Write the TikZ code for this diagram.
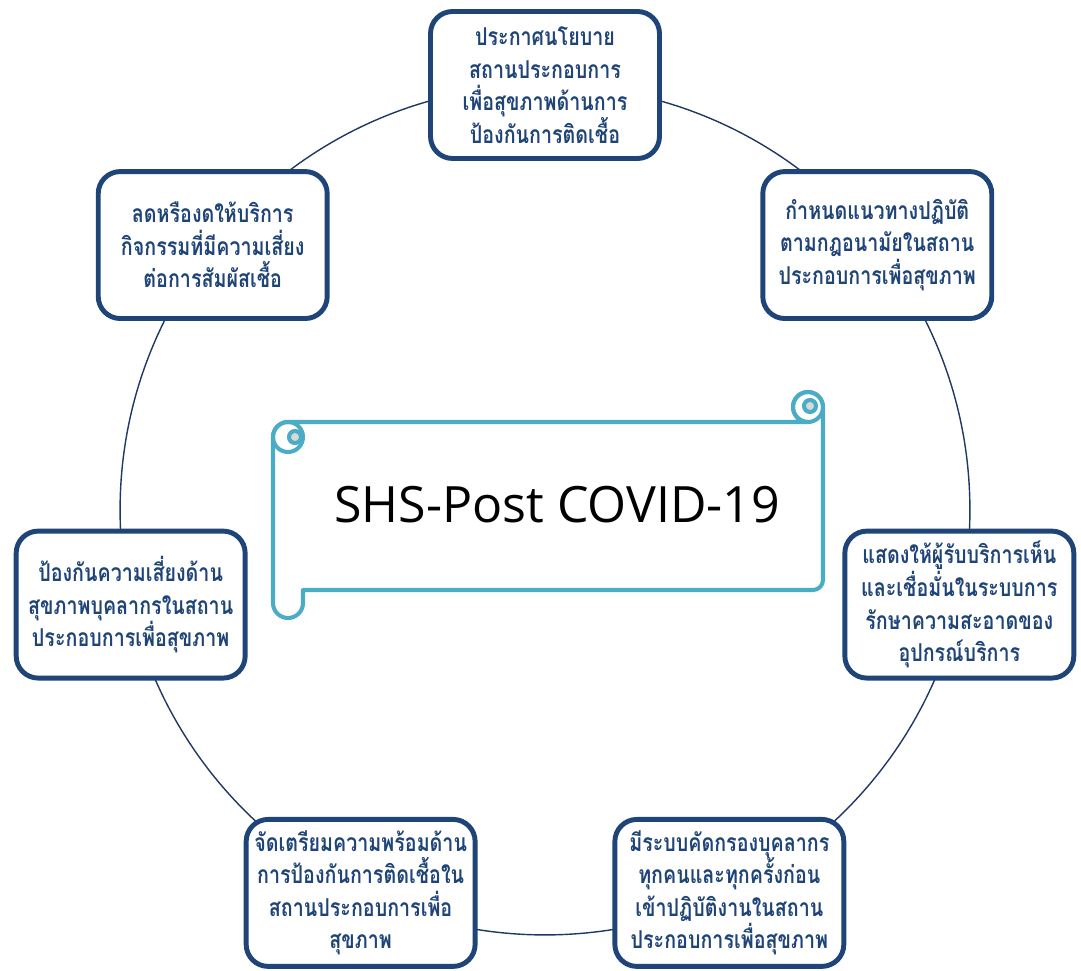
\documentclass[tikz,border=0pt]{standalone}
\usepackage{fontspec}
\newfontfamily\thaifont[Script=Thai,FakeStretch=0.8]{Loma}
\newfontfamily\titlefont{Open Sans}
\definecolor{navy}{HTML}{1F4477}
\definecolor{ringblue}{HTML}{203864}
\definecolor{scrollcyan}{HTML}{4BACC6}
\definecolor{curlgray}{HTML}{D9D9D9}

\begin{document}
\begin{tikzpicture}
[x=0.02cm,y=0.02cm,
 stepcard/.style={draw=navy,line width=2.8pt,fill=white,rounded corners=0.44cm,
   minimum width=4.58cm,minimum height=2.94cm,inner sep=2pt,align=center,
   text=navy,font=\thaifont\bfseries\fontsize{14}{18.5}\selectfont},
 ring/.style={draw=ringblue,line width=0.8pt},
 scroll/.style={draw=scrollcyan,line width=2.3pt,line join=round}]

\useasboundingbox (-545,-460) rectangle (536,510);

\coordinate (hub) at (0,0);
\draw[ring] (hub) circle [radius=8.5cm];

\draw[scroll,fill=white] (-242,-80) -- (268,-80) arc (270:360:10) -- (278,103)
  arc (0:270:15) -- (-257,88) arc (90:180:15) -- (-272,-93) arc (180:360:15) -- cycle;
\draw[scroll] (-257,73) circle [radius=15];
\draw[scroll] (263,103) circle [radius=15];
\filldraw[scroll,fill=curlgray] (-250,73) circle [radius=6];
\filldraw[scroll,fill=curlgray] (265,104) circle [radius=6];
\node[font=\titlefont\fontsize{28.5}{34}\selectfont] (title) at (12,5) {SHS-Post COVID-19};

\node[stepcard] (policy) at (90:425) {ประกาศนโยบาย\\สถานประกอบการ\\เพื่อสุขภาพด้านการ\\ป้องกันการติดเชื้อ};
\node[stepcard] (guideline) at (38.57:425) {กำหนดแนวทางปฏิบัติ\\ตามกฎอนามัยในสถาน\\ประกอบการเพื่อสุขภาพ};
\node[stepcard] (cleaning) at (-12.86:425) {แสดงให้ผู้รับบริการเห็น\\และเชื่อมั่นในระบบการ\\รักษาความสะอาดของ\\อุปกรณ์บริการ};
\node[stepcard] (screening) at (-64.29:425) {มีระบบคัดกรองบุคลากร\\ทุกคนและทุกครั้งก่อน\\เข้าปฏิบัติงานในสถาน\\ประกอบการเพื่อสุขภาพ};
\node[stepcard] (readiness) at (-115.71:425) {จัดเตรียมความพร้อมด้าน\\การป้องกันการติดเชื้อใน\\สถานประกอบการเพื่อ\\สุขภาพ};
\node[stepcard] (staff) at (-167.14:425) {ป้องกันความเสี่ยงด้าน\\สุขภาพบุคลากรในสถาน\\ประกอบการเพื่อสุขภาพ};
\node[stepcard] (reduce) at (141.43:425) {ลดหรืองดให้บริการ\\กิจกรรมที่มีความเสี่ยง\\ต่อการสัมผัสเชื้อ};
\end{tikzpicture}
\end{document}
